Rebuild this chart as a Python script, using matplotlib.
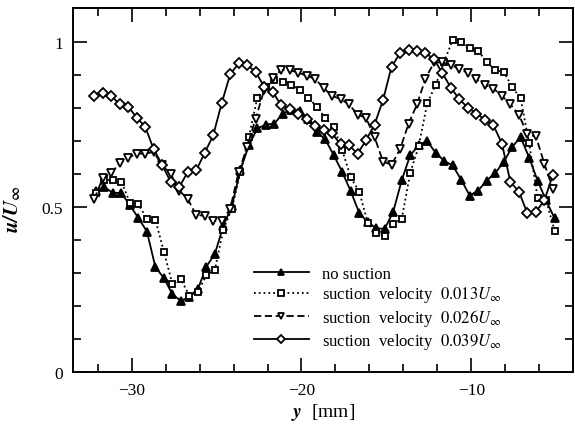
import matplotlib
matplotlib.use("Agg")
import matplotlib.pyplot as plt

plt.rcParams['font.family'] = ['Liberation Serif', 'DejaVu Serif']
plt.rcParams['mathtext.fontset'] = 'stix'

# spanwise positions [mm]
pos_a = [-32.2, -31.7, -31.2, -30.7, -30.2, -29.7, -29.2, -28.7, -28.2, -27.7,
         -27.2, -26.7, -26.2, -25.7, -25.2, -24.7, -24.2, -23.7, -23.2, -22.7,
         -22.2, -21.7, -21.2, -20.7, -20.2, -19.7, -19.2, -18.7, -18.2, -17.7,
         -17.2, -16.7, -16.2, -15.7, -15.2, -14.7, -14.2, -13.7, -13.2, -12.7,
         -12.2, -11.7, -11.2, -10.7, -10.2, -9.7, -9.2, -8.7, -8.2, -7.7,
         -7.2, -6.7, -6.2, -5.7, -5.2]
pos_b = [-32.1, -31.6, -31.1, -30.6, -30.1, -29.6, -29.1, -28.6, -28.1, -27.6,
         -27.1, -26.6, -26.1, -25.6, -25.1, -24.6, -24.1, -23.6, -23.1, -22.6,
         -22.1, -21.6, -21.1, -20.6, -20.1, -19.6, -19.1, -18.6, -18.1, -17.6,
         -17.1, -16.6, -16.1, -15.6, -15.1, -14.6, -14.1, -13.6, -13.1, -12.6,
         -12.1, -11.6, -11.1, -10.6, -10.1, -9.6, -9.1, -8.6, -8.1, -7.6,
         -7.1, -6.6, -6.1, -5.6, -5.1]

# u/U_inf for each case
no_suction = [0.548, 0.560, 0.543, 0.543, 0.505, 0.467, 0.426, 0.318, 0.285, 0.236,
              0.216, 0.228, 0.251, 0.320, 0.358, 0.443, 0.503, 0.611, 0.687, 0.738,
              0.750, 0.753, 0.783, 0.795, 0.790, 0.768, 0.728, 0.705, 0.657, 0.606,
              0.548, 0.482, 0.454, 0.436, 0.434, 0.486, 0.581, 0.657, 0.687, 0.700,
              0.664, 0.640, 0.626, 0.583, 0.535, 0.550, 0.580, 0.603, 0.636, 0.682,
              0.712, 0.650, 0.580, 0.520, 0.466]
suction_013 = [0.544, 0.583, 0.581, 0.577, 0.513, 0.508, 0.465, 0.461, 0.365, 0.267,
               0.281, 0.232, 0.243, 0.294, 0.310, 0.432, 0.495, 0.606, 0.712, 0.831,
               0.864, 0.885, 0.880, 0.869, 0.856, 0.831, 0.804, 0.770, 0.743, 0.672,
               0.590, 0.547, 0.452, 0.422, 0.412, 0.450, 0.464, 0.603, 0.684, 0.814,
               0.870, 0.940, 1.006, 0.999, 0.983, 0.973, 0.940, 0.915, 0.910, 0.864,
               0.829, 0.694, 0.527, 0.520, 0.429]
suction_026 = [0.524, 0.588, 0.603, 0.634, 0.649, 0.662, 0.662, 0.667, 0.626, 0.601,
               0.550, 0.525, 0.476, 0.474, 0.459, 0.459, 0.494, 0.606, 0.682, 0.768,
               0.854, 0.890, 0.915, 0.915, 0.907, 0.898, 0.888, 0.861, 0.837, 0.827,
               0.811, 0.780, 0.770, 0.712, 0.638, 0.628, 0.675, 0.752, 0.811, 0.889,
               0.938, 0.938, 0.930, 0.918, 0.906, 0.887, 0.870, 0.859, 0.837, 0.811,
               0.780, 0.720, 0.714, 0.631, 0.555]
suction_039 = [0.836, 0.844, 0.837, 0.811, 0.804, 0.771, 0.743, 0.675, 0.628, 0.576,
               0.560, 0.606, 0.611, 0.664, 0.717, 0.814, 0.902, 0.935, 0.930, 0.910,
               0.864, 0.850, 0.808, 0.796, 0.781, 0.768, 0.746, 0.733, 0.723, 0.690,
               0.687, 0.662, 0.702, 0.750, 0.824, 0.925, 0.966, 0.976, 0.973, 0.966,
               0.948, 0.905, 0.861, 0.826, 0.801, 0.783, 0.765, 0.748, 0.692, 0.576,
               0.547, 0.481, 0.486, 0.520, 0.598]

labels = ['no suction',
          r'suction  velocity  $0.013U_\infty$',
          r'suction  velocity  $0.026U_\infty$',
          r'suction  velocity  $0.039U_\infty$']


def plot_profiles():
    fig = plt.figure(figsize=(5.75, 4.27), dpi=100)
    ax = fig.add_axes([0.127, 0.126, 0.870, 0.853])

    common = dict(color='black', lw=1.3, mew=1.3)
    ax.plot(pos_b, no_suction, '-', marker='^', ms=5.5, mfc='black', label=labels[0], **common)
    ax.plot(pos_b, suction_013, ':', marker='s', ms=5, mfc='white', label=labels[1], **common)
    ax.plot(pos_a, suction_026, '--', marker='v', ms=5.5, mfc='white', label=labels[2],
            dashes=(4, 2), **common)
    ax.plot(pos_a, suction_039, '-', marker='D', ms=5, mfc='white', label=labels[3], **common)

    ax.set_xlim(-33.45, -4.05)
    ax.set_ylim(0, 1.103)
    ax.set_xticks([-30, -20, -10])
    ax.set_xticks([-32, -28, -26, -24, -22, -18, -16, -14, -12, -8, -6, -4], minor=True)
    ax.set_yticks([0, 0.5, 1])
    ax.set_yticklabels(['0', '0.5', '1'])
    ax.set_yticks([0.1, 0.2, 0.3, 0.4, 0.6, 0.7, 0.8, 0.9], minor=True)
    ax.tick_params(which='both', direction='in', top=True, right=True, width=1.2,
                   labelsize=12.5, pad=7)
    ax.tick_params(which='major', length=10)
    ax.tick_params(which='minor', length=6)
    for sp in ax.spines.values():
        sp.set_linewidth(1.4)

    ax.set_xlabel(r'$\mathbfit{y}$  [mm]', fontsize=14, labelpad=2)
    ax.set_ylabel(r'$\mathbfit{u/U}_{\mathbf{\infty}}$', fontsize=15)
    ax.yaxis.set_label_coords(-0.1, 0.45)

    ax.legend(loc='lower left', bbox_to_anchor=(0.345, 0.035), frameon=False,
              fontsize=12, handlelength=3.3, handletextpad=0.8, labelspacing=0.17,
              borderpad=0, markerscale=0.8)

    fig.savefig('out.png', dpi=100)
    plt.close(fig)


if __name__ == "__main__":
    plot_profiles()
